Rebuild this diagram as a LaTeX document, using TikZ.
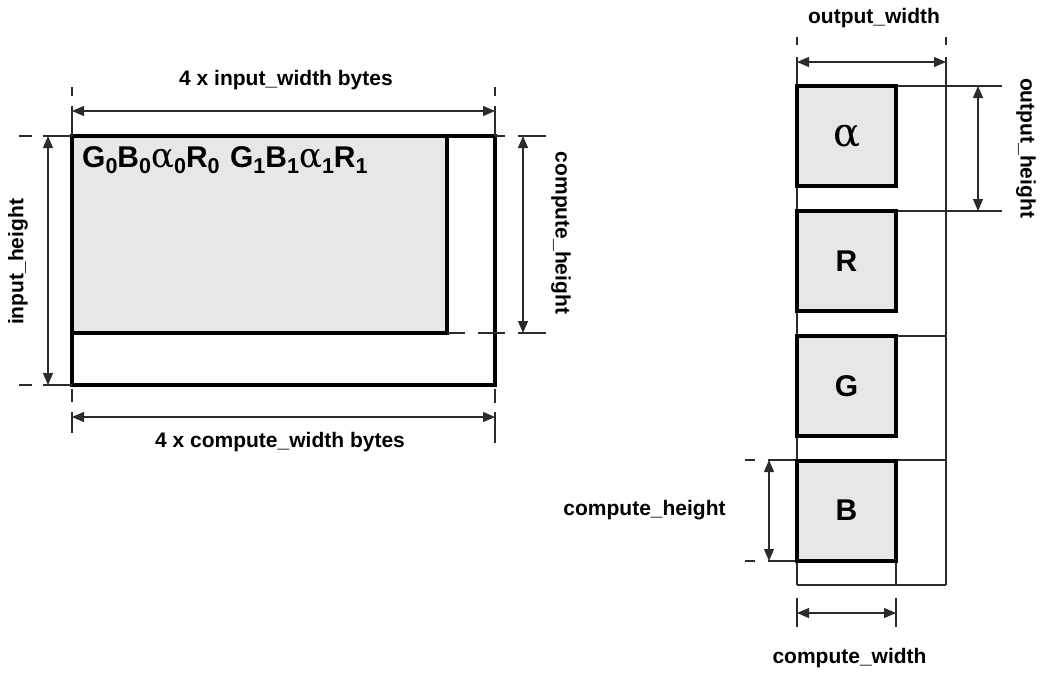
\documentclass[tikz,border=0pt]{standalone}
\usepackage{fontspec}
\setmainfont{Liberation Sans}
\newfontfamily\greekserif{DejaVu Serif}
\usetikzlibrary{arrows.meta}

\definecolor{cellgray}{HTML}{E6E7E8}
\definecolor{ink}{HTML}{2B2B2B}

\newcommand\lowsub[1]{\raisebox{-0.2em}{\fontsize{21.5}{21.5}\selectfont #1}}
\newcommand\salpha{{\greekserif\mdseries\fontsize{34}{34}\selectfont\char"03B1}}

\tikzset{
  thinln/.style={line width=1.1pt, draw=ink},
  dimarrow/.style={thinln, {Triangle[length=12pt,width=10pt]}-{Triangle[length=12pt,width=10pt]}},
  heavy/.style={line width=4pt, draw=black},
  lbl/.style={font=\bfseries\fontsize{21}{24}\selectfont, inner sep=0pt, text=black},
  cellbox/.style={heavy, fill=cellgray, minimum width=99pt, minimum height=100pt,
                  inner sep=0pt, font=\bfseries\fontsize{30}{30}\selectfont},
}

\begin{document}
\begin{tikzpicture}[x=1pt,y=-1pt]
\useasboundingbox (0,0) rectangle (1040,673);

% ---------- interleaved input buffer ----------
\coordinate (inTL) at (72,136);
\coordinate (inBR) at (495,385);
\coordinate (cmBR) at (447,333);

\fill[cellgray] (inTL) rectangle (cmBR);
\draw[heavy] (inTL) rectangle (cmBR);
\draw[heavy] (inTL) rectangle (inBR);

\node[anchor=base west, inner sep=0pt, font=\bfseries\fontsize{30}{30}\selectfont] (pix) at (82,167)
  {G\lowsub{0}B\lowsub{0}\salpha\lowsub{0}R\lowsub{0}\hspace{0.35em}G\lowsub{1}B\lowsub{1}\salpha\lowsub{1}R\lowsub{1}};

% width of the input row
\coordinate (iwL) at (72,111);
\coordinate (iwR) at (495,111);
\draw[dimarrow] (iwL) -- (iwR);
\draw[thinln] (72,87) -- (72,96) (72,106) -- (inTL);
\draw[thinln] (495,87) -- (495,96) (495,106) -- (495,136);
\node[lbl] (iwlbl) at (286,80) {4 x input\_width bytes};

% input height
\coordinate (ihT) at (48,136);
\coordinate (ihB) at (48,385);
\draw[dimarrow] (ihT) -- (ihB);
\draw[thinln] (19,136) -- (32,136) (43,136) -- (inTL);
\draw[thinln] (19,385) -- (32,385) (43,385) -- (72,385);
\node[lbl, rotate=90] (ihlbl) at (18,262) {input\_height};

% compute height
\coordinate (chT) at (523,136);
\coordinate (chB) at (523,333);
\draw[dimarrow] (chT) -- (chB);
\draw[thinln] (495,136) -- (505,136) (518,136) -- (546,136);
\draw[thinln] (cmBR) -- (465,333) (478,333) -- (505,333) (518,333) -- (546,333);
\node[lbl, rotate=-90] (chlbl) at (561,233) {compute\_height};

% compute width
\coordinate (cwL) at (72,417);
\coordinate (cwR) at (495,417);
\draw[dimarrow] (cwL) -- (cwR);
\draw[thinln] (72,389) -- (72,402) (72,412) -- (72,433);
\draw[thinln] (495,389) -- (495,403) (495,412) -- (495,443);
\node[lbl] (cwlbl) at (280,442) {4 x compute\_width bytes};

% ---------- planar output ----------
\draw[thinln] (797,37) -- (797,45) (797,57) -- (797,585);
\draw[thinln] (946,37) -- (946,45) (946,57) -- (946,585);
\draw[thinln] (797,585) -- (946,585);
\draw[thinln] (896,561) -- (896,585);
\draw[thinln] (896,86) -- (1002,86) (896,211) -- (1002,211);
\draw[thinln] (896,336) -- (946,336) (896,460) -- (946,460);
\draw[thinln] (745,460) -- (755,460) (768,460) -- (797,460);
\draw[thinln] (745,561) -- (755,561) (768,561) -- (797,561);
\draw[thinln] (797,598) -- (797,627) (896,598) -- (896,627);

\node[cellbox, font=\greekserif\fontsize{40}{40}\selectfont] (pa) at (846.5,136) {\char"03B1};
\node[cellbox] (pr) at (846.5,261) {R};
\node[cellbox] (pg) at (846.5,386) {G};
\node[cellbox] (pb) at (846.5,510.5) {B};

\draw[dimarrow] (797,62) -- (946,62);
\node[lbl] (owlbl) at (874,18) {output\_width};

\draw[dimarrow] (978,86) -- (978,211);
\node[lbl, rotate=-90] (ohlbl) at (1026,148) {output\_height};

\draw[dimarrow] (769,460) -- (769,561);
\node[lbl] (pchlbl) at (644.5,510) {compute\_height};

\draw[dimarrow] (797,613) -- (896,613);
\node[lbl] (pcwlbl) at (849.5,658) {compute\_width};
\end{tikzpicture}
\end{document}
